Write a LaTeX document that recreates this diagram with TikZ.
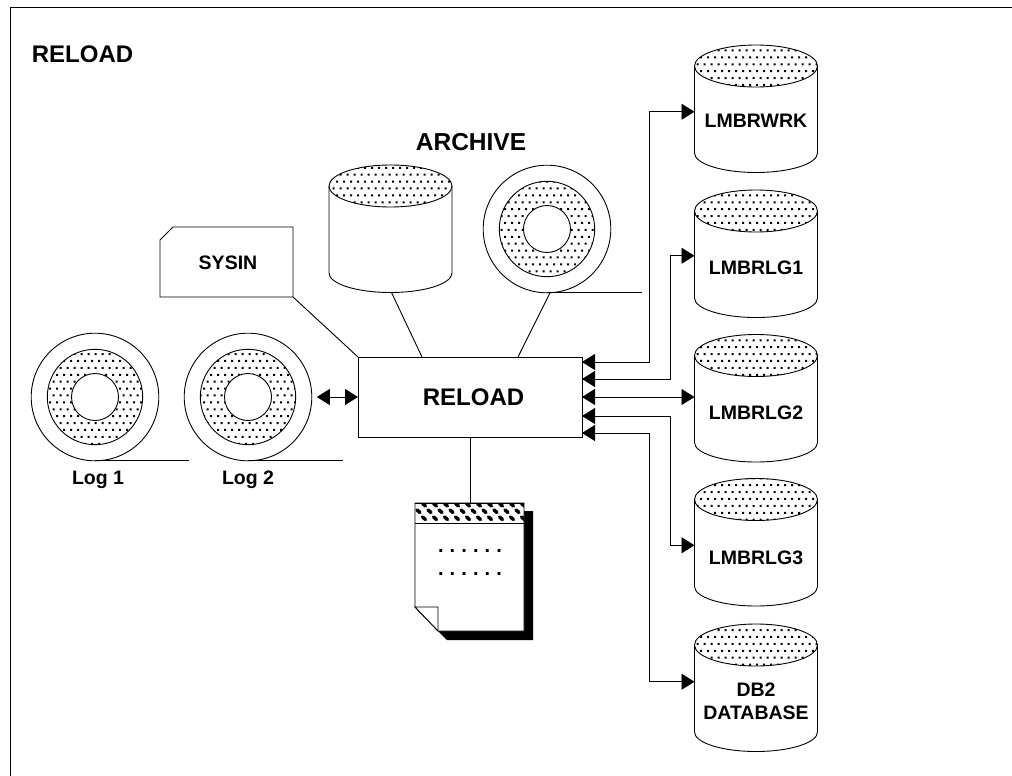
\documentclass[tikz,border=0pt]{standalone}
\usepackage{fontspec}
\setmainfont{Liberation Sans}
\usetikzlibrary{arrows.meta,patterns,calc}
\pgfdeclarepatternformonly{dotgrid}{\pgfqpoint{-1pt}{-1pt}}{\pgfqpoint{8pt}{15pt}}{\pgfqpoint{7pt}{13.8pt}}{%
  \pgfpathrectangle{\pgfqpoint{0pt}{0pt}}{\pgfqpoint{2pt}{2pt}}%
  \pgfpathrectangle{\pgfqpoint{3.5pt}{6.9pt}}{\pgfqpoint{2pt}{2pt}}%
  \pgfusepath{fill}}
\tikzset{
  ln/.style={line width=0.9pt,black},
  conn/.style={ln,line join=miter},
  both/.style={{Triangle[length=13pt,width=16pt]}-{Triangle[length=13pt,width=16pt]}},
  lbl/.style={font=\bfseries\fontsize{19.5}{23}\selectfont,align=center,inner sep=0pt,text=black},
  biglbl/.style={lbl,font=\bfseries\fontsize{24}{28}\selectfont},
  hole/.style={inner sep=0pt,outer sep=0pt,minimum width=123pt,minimum height=127.5pt},
  reelbox/.style={inner sep=0pt,outer sep=0pt,minimum size=127.6pt}
}
% cylinder: name, cx, ellipse cy
\newcommand{\mycyl}[3]{%
  \fill[pattern=dotgrid,pattern color=black] (#2,#3) ellipse[x radius=61.5,y radius=21];
  \draw[ln] (#2,#3) ellipse[x radius=61.5,y radius=21];
  \draw[ln] (#2-61.5,#3) -- (#2-61.5,#3+87) arc[start angle=180,end angle=0,x radius=61.5,y radius=19.5] -- (#2+61.5,#3);
  \node[hole] (#1) at (#2,#3+42.75) {};
}
% reel: name, cx, cy, line end x
\newcommand{\myreel}[4]{%
  \draw[ln] (#2,#3) circle[radius=63.8];
  \fill[pattern=dotgrid,pattern color=black] (#2,#3) circle[radius=47.7];
  \draw[ln] (#2,#3) circle[radius=47.7];
  \draw[ln,fill=white] (#2,#3) circle[radius=23.5];
  \draw[ln] (#2,#3+63.8) -- (#4,#3+63.8);
  \node[reelbox] (#1) at (#2,#3) {};
}
\begin{document}
\begin{tikzpicture}[x=1pt,y=-1pt]
\useasboundingbox (0,0) rectangle (1012,776);
% frame
\coordinate (fbl) at (10.5,776);
\coordinate (ftl) at (10.5,7.5);
\coordinate (ftr) at (1012,7.5);
\draw[line width=1pt] (fbl) -- (ftl) -- (ftr);
\node[biglbl] (title) at (82.5,54) {RELOAD};
\node[biglbl,font=\bfseries\fontsize{24.5}{28}\selectfont] (archive) at (471,142) {ARCHIVE};
% central box
\node[draw,ln,inner sep=0pt,outer sep=0pt,minimum width=224pt,minimum height=80pt] (reload) at (470,397) {};
\node[biglbl] (reloadt) at (473.5,397.5) {RELOAD};
% reels
\myreel{log1}{95}{397}{189}
\myreel{log2}{248}{397}{343}
\myreel{arcreel}{547}{229}{642}
\node[lbl,anchor=base] (log1t) at (98,484) {Log 1};
\node[lbl,anchor=base] (log2t) at (248,484) {Log 2};
% archive cylinder and targets
\mycyl{arccyl}{390.5}{186}
\mycyl{wrk}{756}{66}
\mycyl{lg1}{756}{211}
\mycyl{lg2}{756}{355.5}
\mycyl{lg3}{756}{499.5}
\mycyl{db2}{756}{645}
\node[lbl] (wrkt) at (756,121) {LMBRWRK};
\node[lbl] (lg1t) at (756,268) {LMBRLG1};
\node[lbl] (lg2t) at (756,413) {LMBRLG2};
\node[lbl] (lg3t) at (756,558) {LMBRLG3};
\node[lbl] (db2t) at (756,701.5) {DB2\\DATABASE};
% sysin card
\node[inner sep=0pt,outer sep=0pt,minimum width=133pt,minimum height=70pt] (sysin) at (226.5,262) {};
\draw[ln] (sysin.south west) -- ([yshift=-13pt]sysin.north west) -- ([xshift=13pt]sysin.north west) -- (sysin.north east) -- (sysin.south east) -- cycle;
\node[lbl] (sysint) at (228,263) {SYSIN};
% document
\node[inner sep=0pt,outer sep=0pt,minimum width=109pt,minimum height=128pt] (doc) at (469.5,567) {};
\fill[black] ([yshift=-8pt]doc.north east) -- ([xshift=9pt,yshift=-8pt]doc.north east) -- ([xshift=9pt,yshift=-9pt]doc.south east) -- ([xshift=32pt,yshift=-9pt]doc.south west) -- ([xshift=23pt]doc.south west) -- cycle;
\draw[ln,fill=white] (doc.north west) -- (doc.north east) -- (doc.south east) -- ([xshift=23pt]doc.south west) -- ([yshift=24pt]doc.south west) -- cycle;
\begin{scope}
  \clip (415,503) rectangle (524,523);
  \foreach \r/\yy/\off in {0/504.5/5.5,1/511/0,2/518/5.5}{
    \foreach \k in {0,...,10}{
      \draw[line width=3.5pt,line cap=round] ({\off+417+\k*11},{\yy-1}) -- ({\off+420+\k*11},{\yy+1.5});
    }
  }
\end{scope}
\draw[ln] (doc.north west) -- (doc.north east);
\draw[ln] (415,523) -- (524,523);
\draw[ln,fill=white] ([yshift=24pt]doc.south west) -- ([xshift=23pt,yshift=24pt]doc.south west) -- ([xshift=23pt]doc.south west) -- cycle;
\node[inner sep=0pt,font=\bfseries\fontsize{20}{20}\selectfont] (dots1) at (470,551) {.\hspace{6.1pt}.\hspace{6.1pt}.\hspace{6.1pt}.\hspace{6.1pt}.\hspace{6.1pt}.};
\node[inner sep=0pt,font=\bfseries\fontsize{20}{20}\selectfont] (dots2) at (470,574) {.\hspace{6.1pt}.\hspace{6.1pt}.\hspace{6.1pt}.\hspace{6.1pt}.\hspace{6.1pt}.};
% plain connectors
\draw[conn] (sysin.south east) -- (reload.north west);
\draw[conn] ([shift={(1pt,0)}]arccyl.south) -- ([xshift=-48pt]reload.north);
\draw[conn] ([shift={(3pt,0)}]arcreel.south) -- ([xshift=48pt]reload.north);
\draw[conn] (reload.south) -- ([xshift=0.5pt]doc.north);
% arrows
\draw[conn,both] ([xshift=5pt]log2.east) -- (reload.west);
\draw[conn,both] ([yshift=35pt]reload.east) -- ++(67,0) |- ([yshift=-3pt]wrk.west);
\draw[conn,both] ([yshift=18pt]reload.east) -- ++(88,0) |- ([yshift=-2pt]lg1.west);
\draw[conn,both] (reload.east) -- (reload.east -| lg2.west);
\draw[conn,both] ([yshift=-19pt]reload.east) -- ++(88,0) |- ([yshift=-3pt]lg3.west);
\draw[conn,both] ([yshift=-36pt]reload.east) -- ++(67,0) |- ([yshift=6pt]db2.west);
\end{tikzpicture}
\end{document}
